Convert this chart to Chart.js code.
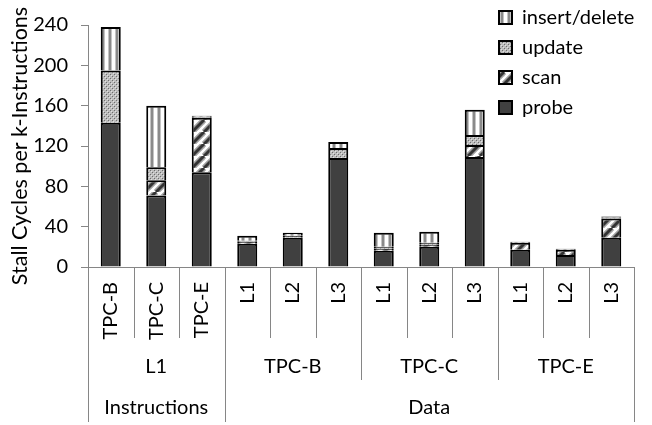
<!DOCTYPE html>
<html><head><meta charset="utf-8">
<script src="https://cdn.jsdelivr.net/npm/chart.js@4/dist/chart.umd.min.js"></script>
<style>html,body{margin:0;padding:0;background:#fff;}#wrap{width:652px;height:425px;}</style>
</head><body><div id="wrap"><canvas id="c" width="652" height="425"></canvas></div>
<script>
// ---- data ----
const categories = ['TPC-B','TPC-C','TPC-E','L1','L2','L3','L1','L2','L3','L1','L2','L3'];
const level2Labels = ['L1','TPC-B','TPC-C','TPC-E'];
const level2Spans = [3,3,3,3];
const level3Labels = ['Instructions','Data'];
const level3Spans = [3,9];
const probe        = [143, 71, 94, 23, 29, 108, 16, 20, 109, 17, 12, 29];
const scan         = [  0, 15, 54,  2,  0,   0,  2,  2,  12,  7,  5, 19];
const update       = [ 52, 13,  1,  1,  2,  10,  2,  2,  10,  0,  0,  1];
const insertDelete = [ 43, 61,  1,  5,  3,   6, 14, 11,  25,  1,  1,  1];
const yTicks = [0, 40, 80, 120, 160, 200, 240];
const yTitle = 'Stall Cycles per k-Instructions';

// ---- styles ----
const FONT = 'Lato, "Open Sans", sans-serif';
const FS = 20;
const AXIS = '#868686';

function makePattern(w, h, draw) {
  const c = document.createElement('canvas'); c.width = w; c.height = h;
  const g = c.getContext('2d'); draw(g, w, h);
  return document.createElement('canvas').getContext('2d').createPattern(c, 'repeat');
}
const scanPat = makePattern(12, 12, (g, w, h) => {
  g.fillStyle = '#fff'; g.fillRect(0, 0, w, h);
  g.lineCap = 'butt';
  [[6, '#a0a0a0'], [3, '#333']].forEach(([lw, col]) => {
    g.strokeStyle = col; g.lineWidth = lw;
    for (const o of [-w, 0, w]) { g.beginPath(); g.moveTo(o, h); g.lineTo(o + w, 0); g.stroke(); }
  });
});
const updatePat = makePattern(4, 4, (g, w, h) => {
  g.fillStyle = '#bdbdbd'; g.fillRect(0, 0, w, h);
  g.fillStyle = '#6e6e6e'; g.fillRect(0, 0, 1, 1); g.fillRect(2, 2, 1, 1);
  g.fillStyle = '#e2e2e2'; g.fillRect(1, 1, 1, 1); g.fillRect(3, 3, 1, 1);
});
const insPat = makePattern(7, 1, (g) => {
  const cols = ['#fff', '#fff', '#fff', '#c4c4c4', '#8a8a8a', '#8a8a8a', '#c4c4c4'];
  cols.forEach((c, i) => { g.fillStyle = c; g.fillRect(i, 0, 1, 1); });
});

const cum = spans => spans.reduce((a, s) => (a.push(a[a.length - 1] + s), a), [0]);

const groupAxis = {
  id: 'groupAxis',
  beforeDraw(chart) {
    const lg = chart.legend, ca = chart.chartArea;
    lg.left = ca.right - 145; lg.right = chart.width;
    lg.top = ca.top - 27.5; lg.bottom = ca.bottom;
  },
  afterDraw(chart) {
    const {ctx} = chart, x = chart.scales.x;
    const n = categories.length;
    const edge = k => x.getPixelForValue(k - 0.5);
    const b2 = cum(level2Spans), b3 = cum(level3Spans);
    const top = x.top;
    ctx.save();
    ctx.strokeStyle = AXIS; ctx.lineWidth = 1;
    for (let k = 0; k <= n; k++) {
      let bottom = top + 71;
      if (b3.includes(k)) bottom = top + 155;
      else if (b2.includes(k)) bottom = top + 113;
      const px = Math.round(edge(k)) + 0.5;
      ctx.beginPath(); ctx.moveTo(px, top); ctx.lineTo(px, bottom); ctx.stroke();
    }
    ctx.fillStyle = '#000'; ctx.font = FS + 'px ' + FONT;
    ctx.textAlign = 'center'; ctx.textBaseline = 'middle';
    let s = 0;
    level2Labels.forEach((lab, i) => { const e = s + level2Spans[i]; ctx.fillText(lab, (edge(s) + edge(e)) / 2, top + 100); s = e; });
    s = 0;
    level3Labels.forEach((lab, i) => { const e = s + level3Spans[i]; ctx.fillText(lab, (edge(s) + edge(e)) / 2, top + 141); s = e; });
    ctx.restore();
  }
};

Chart.defaults.font.family = FONT;
Chart.defaults.font.size = FS;
Chart.defaults.color = '#000';

const common = { borderColor: '#000', borderWidth: 2, barPercentage: 0.44, categoryPercentage: 1 };
new Chart(document.getElementById('c'), {
  type: 'bar',
  data: {
    labels: categories,
    datasets: [
      Object.assign({ label: 'probe', data: probe, backgroundColor: '#404040' }, common),
      Object.assign({ label: 'scan', data: scan, backgroundColor: scanPat }, common),
      Object.assign({ label: 'update', data: update, backgroundColor: updatePat }, common),
      Object.assign({ label: 'insert/delete', data: insertDelete, backgroundColor: insPat }, common)
    ]
  },
  options: {
    responsive: false, animation: false, devicePixelRatio: 1,
    layout: { padding: { top: 15, right: 18, bottom: 0, left: 0 } },
    plugins: {
      legend: {
        position: 'chartArea', align: 'start', reverse: true,
        labels: { boxWidth: 13, boxHeight: 13, padding: 10, font: { size: FS }, color: '#000' }
      },
      tooltip: { enabled: false }
    },
    scales: {
      x: {
        stacked: true,
        grid: { display: false, drawTicks: false },
        border: { display: true, color: AXIS, width: 1 },
        ticks: { autoSkip: false, minRotation: 90, maxRotation: 90, padding: 15, font: { size: FS }, color: '#000' },
        afterFit: s => { s.height = 158; }
      },
      y: {
        stacked: true, min: 0, max: 240,
        grid: { display: true, drawOnChartArea: false, drawTicks: true, tickLength: 7, color: AXIS },
        border: { display: true, color: AXIS, width: 1 },
        ticks: { padding: 13, font: { size: FS }, color: '#000' },
        afterBuildTicks: s => { s.ticks = yTicks.map(v => ({ value: v })); },
        title: { display: true, text: yTitle, font: { size: 21.5 }, color: '#000', padding: { top: 7, bottom: 0 } },
        afterFit: s => { s.width = 88; }
      }
    }
  },
  plugins: [groupAxis]
});
</script></body></html>
